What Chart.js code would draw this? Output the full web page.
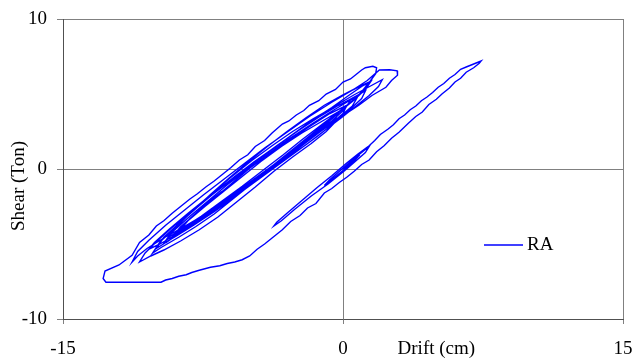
<!DOCTYPE html>
<html>
<head>
<meta charset="utf-8">
<script src="https://cdn.jsdelivr.net/npm/chart.js@4.4.1/dist/chart.umd.min.js"></script>
<style>
  html, body { margin: 0; padding: 0; background: #fff; }
</style>
</head>
<body>
<canvas id="chartCanvas" width="632" height="360"></canvas>
<script>
// axis ticks
const driftTicks = [-15, 0, 15];
const shearTicks = [-10, 0, 10];

// first small cycles around the origin
const startDrift = [0, 0.5, 0.9, 0.6, 0.1, -0.5, -1.0, -0.7, -0.1, 0.6, 1.1, 1.4, 1.2, 0.7, 0.1, -0.8, -1.7, -2.6, -3.3, -3.7, -3.55, -3.0, -2.2, -1.4, -0.6, 0.2, 0.8, 1.4];
const startShear = [0, 0.55, 0.95, 0.55, 0.0, -0.6, -1.1, -0.7, -0.05, 0.7, 1.2, 1.5, 1.1, 0.55, -0.1, -1.0, -1.8, -2.7, -3.45, -3.8, -3.55, -2.95, -2.1, -1.25, -0.45, 0.4, 1.0, 1.55];

// big excursion: up to +7.4 then down to -12.8
const bigDrift = [
  1.7, 2.0, 2.4, 2.7, 3.0, 3.3, 3.6, 3.9, 4.2, 4.5, 4.8, 5.1, 5.4, 5.7, 6.0, 6.3, 6.6, 6.9, 7.2, 7.4,
  7.3, 7.0, 6.6, 6.3, 6.0, 5.7, 5.3, 5.0, 4.6, 4.25, 3.9, 3.5, 3.0, 2.6, 2.2, 1.8, 1.4, 1.0, 0.6, 0.2,
  -0.2, -0.6, -1.0, -1.45, -1.9, -2.3, -2.8, -3.25, -3.7, -4.2, -4.6, -5.0, -5.4, -5.8, -6.2, -6.6, -7.1, -7.7, -8.1, -8.4,
  -8.8, -9.15, -9.5, -9.75, -10.4, -11.0, -11.8, -12.7, -12.85, -12.75
];
const bigShear = [
  1.9, 2.3, 2.65, 2.95, 3.35, 3.6, 3.95, 4.2, 4.55, 4.8, 5.1, 5.45, 5.7, 6.05, 6.3, 6.65, 6.8, 6.95, 7.1, 7.2,
  7.05, 6.75, 6.45, 6.05, 5.8, 5.4, 5.0, 4.65, 4.3, 3.8, 3.5, 3.05, 2.45, 2.05, 1.55, 1.15, 0.6, 0.3, -0.15, -0.55,
  -0.9, -1.3, -1.6, -2.3, -2.6, -3.1, -3.5, -4.05, -4.5, -5.0, -5.35, -5.8, -6.05, -6.2, -6.3, -6.45, -6.55, -6.75, -6.9, -7.05,
  -7.15, -7.3, -7.4, -7.55, -7.55, -7.55, -7.55, -7.55, -7.3, -6.8
];

// later cycles, shifted to the left
const loopDrift = [
  -12.0, -11.3, -10.9, -10.4, -10.0, -9.6, -9.15, -8.7, -8.2, -7.8, -7.35, -6.9, -6.4, -6.0, -5.55, -5.1, -4.7, -4.2, -3.8, -3.25, -2.9, -2.5, -2.1, -1.8, -1.3, -0.9, -0.4, 0.0, 0.4, 0.7, 1.0, 1.2, 1.6, 1.8,
  1.75, 1.45, 1.0, 0.5, 0.0, -0.8, -1.8, -3.0, -4.2, -5.3, -6.4, -7.5, -8.6, -9.6, -10.5, -11.0, -11.3,
  -11.0, -10.4, -9.5, -8.5, -7.5, -6.4, -5.3, -4.2, -3.0, -1.8, -0.6, 0.5, 1.3, 1.95, 2.5, 2.9,
  2.92, 2.6, 2.3, 1.55, 0.85, 0.3, -0.25, -0.9, -1.7, -2.7, -3.7, -4.7, -5.7, -6.7, -7.7, -8.7, -9.6, -10.3, -10.9,
  -10.6, -10.0, -9.2, -8.2, -7.2, -6.1, -5.0, -3.9, -2.8, -1.6, -0.5, 0.6, 1.5, 2.1,
  1.9, 1.4, 0.8, 0.0, -1.0, -2.0, -3.1, -4.2, -5.3, -6.4, -7.5, -8.5, -9.3, -10.0,
  -9.6, -8.8, -7.8, -6.8, -5.7, -4.6, -3.5, -2.4, -1.3, -0.3, 0.6, 1.2,
  1.0, 0.4, -0.4, -1.4, -2.5, -3.6, -4.7, -5.8, -6.9, -8.0, -8.9, -9.6,
  -9.1, -8.2, -7.2, -6.2, -5.1, -4.0, -2.9, -1.8, -0.8, 0.2, 0.8,
  0.5, -0.2, -1.1, -2.2, -3.3, -4.4, -5.5, -6.6, -7.7, -8.6, -9.3,
  -8.7, -7.9, -7.0, -6.0, -5.0, -3.9, -2.8, -1.7, -0.7, 0.2,
  0.0, -0.7, -1.7, -2.8, -3.9, -5.0, -6.1, -7.2, -8.2, -9.0,
  -8.4, -7.4, -6.4, -5.4, -4.4, -3.3, -2.2, -1.1, -0.2,
  -0.4, -1.2, -2.3, -3.4, -4.5, -5.6, -6.7, -7.8, -8.8, -9.8, -10.4,
  -10.1, -9.3, -8.3, -7.2, -6.0, -4.8, -3.6, -2.6, -1.6, -0.6, 0.3, 1.0, 1.3,
  1.1, 0.6, -0.1, -0.9, -1.9, -2.9, -3.9, -4.9, -5.9, -6.9, -7.9, -8.8, -9.7, -10.2,
  -9.8, -9.0, -8.1, -7.1, -6.1, -5.1, -4.1, -3.0, -2.0, -1.0, 0.0, 0.8, 1.5,
  1.2, 0.6, -0.2, -1.2, -2.2, -3.2, -4.3, -5.4, -6.5, -7.6, -8.6, -9.4,
  -8.9, -8.0, -7.0, -6.0, -4.9, -3.8, -2.7, -1.6, -0.6, 0.4,
  0.1, -0.6, -1.5, -2.6, -3.7, -4.8, -5.9, -7.0, -8.0, -8.8,
  -8.2, -7.3, -6.5
];
const loopShear = [
  -6.4, -5.75, -4.9, -4.4, -3.8, -3.45, -2.95, -2.5, -2.0, -1.65, -1.2, -0.8, -0.3, 0.1, 0.6, 0.95, 1.5, 1.9, 2.4, 3.0, 3.2, 3.6, 3.9, 4.25, 4.55, 5.0, 5.3, 5.8, 6.0, 6.3, 6.6, 6.75, 6.85, 6.75,
  6.35, 5.85, 5.15, 4.5, 4.05, 3.2, 2.2, 1.0, -0.2, -1.3, -2.2, -3.1, -3.9, -4.6, -5.3, -5.8, -6.2,
  -5.5, -4.75, -3.75, -2.75, -1.75, -0.7, 0.35, 1.4, 2.45, 3.5, 4.45, 5.25, 5.9, 6.6, 6.62, 6.55,
  6.25, 5.9, 5.45, 4.9, 4.25, 3.8, 3.35, 2.5, 1.7, 0.8, -0.15, -1.2, -2.2, -3.2, -4.05, -4.8, -5.4, -5.8, -6.2,
  -5.6, -4.85, -3.95, -2.9, -1.9, -0.85, 0.2, 1.2, 2.2, 3.25, 4.15, 4.95, 5.55, 5.95,
  5.5, 4.9, 4.3, 3.5, 2.55, 1.6, 0.65, -0.35, -1.35, -2.35, -3.25, -4.1, -4.75, -5.3,
  -4.55, -3.65, -2.55, -1.5, -0.4, 0.6, 1.6, 2.55, 3.45, 4.2, 4.8, 5.2,
  4.7, 4.0, 3.15, 2.15, 1.15, 0.15, -0.85, -1.85, -2.85, -3.75, -4.45, -4.95,
  -4.15, -3.15, -2.1, -1.05, 0.0, 1.0, 2.0, 2.9, 3.7, 4.45, 4.85,
  4.2, 3.45, 2.6, 1.55, 0.5, -0.5, -1.5, -2.5, -3.45, -4.15, -4.75,
  -3.85, -3.0, -2.05, -1.0, 0.05, 1.05, 2.0, 2.9, 3.7, 4.25,
  3.7, 2.95, 2.05, 1.05, 0.05, -0.95, -1.95, -2.95, -3.75, -4.4,
  -3.55, -2.5, -1.5, -0.5, 0.5, 1.5, 2.4, 3.2, 3.85,
  3.35, 2.55, 1.55, 0.55, -0.45, -1.45, -2.45, -3.4, -4.25, -5.0, -5.35,
  -4.9, -4.0, -2.95, -1.85, -0.7, 0.45, 1.5, 2.4, 3.3, 4.1, 4.9, 5.5, 5.7,
  5.2, 4.6, 3.9, 3.0, 2.0, 1.05, 0.0, -1.0, -2.0, -3.0, -3.85, -4.55, -5.2, -5.6,
  -4.85, -3.95, -2.85, -1.7, -0.6, 0.45, 1.45, 2.5, 3.4, 4.25, 4.95, 5.45, 5.85,
  5.3, 4.65, 3.85, 2.9, 1.95, 0.95, -0.1, -1.15, -2.15, -3.15, -3.95, -4.6,
  -3.75, -2.7, -1.6, -0.55, 0.55, 1.55, 2.5, 3.35, 4.05, 4.6,
  4.0, 3.2, 2.3, 1.3, 0.3, -0.7, -1.7, -2.7, -3.55, -4.15,
  -3.3, -2.3, -1.5
];

const seriesName = 'RA';
const driftTitle = 'Drift (cm)';
const shearTitle = 'Shear (Ton)';

const drift = [...startDrift, ...bigDrift, ...loopDrift];
const shear = [...startShear, ...bigShear, ...loopShear];
const points = drift.map((d, i) => ({ x: d, y: shear[i] }));

const fontFamily = '"Liberation Serif", "Times New Roman", serif';

// titles + legend drawn by hand, the way the original sheet places them
const textPlugin = {
  id: 'textPlugin',
  afterDraw(chart) {
    const ctx = chart.ctx;
    ctx.save();
    ctx.font = '19px ' + fontFamily;
    ctx.fillStyle = '#000';
    ctx.textBaseline = 'middle';

    ctx.textAlign = 'center';
    ctx.fillText(driftTitle, chart.scales.x.getPixelForValue(5), 349);

    ctx.save();
    ctx.translate(19, 186);
    ctx.rotate(-Math.PI / 2);
    ctx.fillText(shearTitle, 0, 0);
    ctx.restore();

    const ds = chart.data.datasets[0];
    ctx.strokeStyle = ds.borderColor;
    ctx.lineWidth = 1.5;
    ctx.beginPath();
    ctx.moveTo(484, 245);
    ctx.lineTo(523, 245);
    ctx.stroke();
    ctx.textAlign = 'left';
    ctx.fillText(ds.label, 527, 245);
    ctx.restore();
  }
};

new Chart(document.getElementById('chartCanvas').getContext('2d'), {
  type: 'scatter',
  data: {
    datasets: [{
      label: seriesName,
      data: points,
      showLine: true,
      borderColor: '#0000FF',
      borderWidth: 1.4,
      pointRadius: 0,
      tension: 0,
      fill: false
    }]
  },
  options: {
    responsive: false,
    animation: false,
    layout: { padding: { top: 19, right: 9, left: 0, bottom: 0 } },
    plugins: {
      legend: { display: false },
      tooltip: { enabled: false }
    },
    scales: {
      x: {
        type: 'linear',
        min: -15,
        max: 15,
        afterBuildTicks: s => { s.ticks = driftTicks.map(v => ({ value: v })); },
        afterFit: s => { s.height = 41; s.paddingLeft = 0; s.paddingRight = 0; },
        grid: { color: '#808080', lineWidth: 1, tickLength: 5 },
        border: { color: '#505050' },
        ticks: { color: '#000', padding: 14, font: { family: fontFamily, size: 19 } }
      },
      y: {
        type: 'linear',
        min: -10,
        max: 10,
        afterBuildTicks: s => { s.ticks = shearTicks.map(v => ({ value: v })); },
        afterFit: s => { s.width = 63; s.paddingTop = 0; s.paddingBottom = 0; },
        grid: { color: '#808080', lineWidth: 1, tickLength: 6 },
        border: { color: '#505050' },
        ticks: { color: '#000', padding: 10, font: { family: fontFamily, size: 19 } }
      }
    }
  },
  plugins: [textPlugin]
});
</script>
</body>
</html>
